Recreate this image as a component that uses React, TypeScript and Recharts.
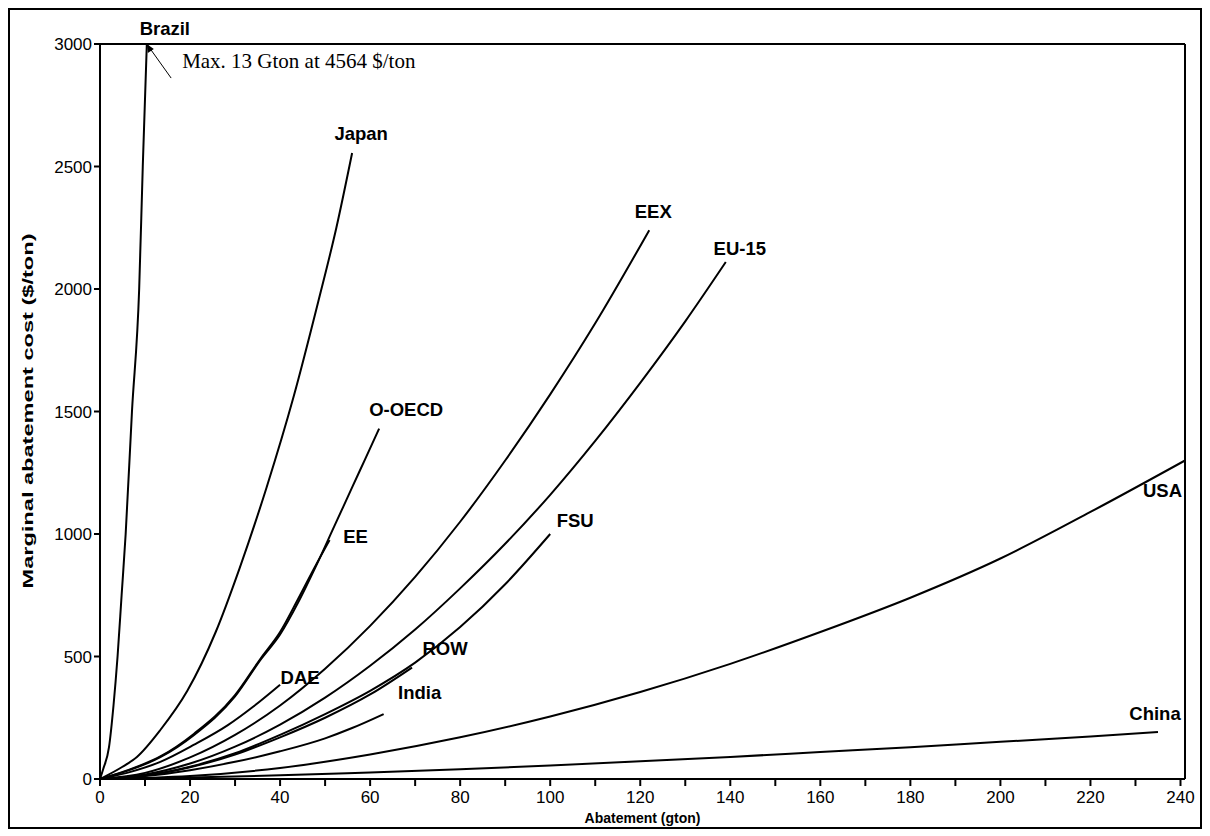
import { LineChart, Line, XAxis, YAxis, ReferenceLine, LabelList } from 'recharts'

// abatement (gton) vs marginal abatement cost ($/ton)
const brazil = [[0, 0], [0.7, 40], [2, 130], [3, 300], [3.9, 500], [4.8, 750], [5.7, 1000], [7.1, 1500], [8.7, 2000], [9.5, 2500], [10.4, 3000]]
const japan = [[0, 0], [5, 50], [8.2, 90], [13.4, 200], [19.4, 360], [25.7, 600], [31, 860], [37, 1190], [43, 1560], [48.5, 1950], [52.5, 2250], [56, 2555]]
const oOecd = [[0, 0], [6, 33], [13.4, 89], [20.9, 180], [29.9, 335], [35.8, 490], [40, 590], [44, 720], [48, 870], [52, 1030], [56, 1190], [59, 1310], [62, 1430]]
const ee = [[0, 0], [6, 35], [13.4, 92], [20.9, 185], [29.9, 340], [35.8, 495], [40, 600], [44, 735], [48, 875], [51, 975]]
const dae = [[0, 0], [6, 25], [13.4, 70], [20.9, 140], [28.4, 220], [34, 295], [40, 385]]
const eex = [[0, 0], [10, 25], [20, 88], [30, 180], [40, 300], [50, 450], [60, 625], [70, 825], [80, 1050], [90, 1300], [100, 1570], [110, 1860], [122, 2240]]
const eu15 = [[0, 0], [10, 18], [20, 63], [30, 132], [40, 222], [50, 332], [60, 462], [70, 610], [80, 778], [90, 960], [100, 1160], [110, 1380], [120, 1617], [130, 1868], [139, 2110]]
const fsu = [[0, 0], [10, 14], [20, 50], [30, 105], [40, 180], [50, 265], [60, 360], [70, 475], [80, 620], [90, 795], [100, 1000]]
const row = [[0, 0], [10, 14], [20, 48], [30, 100], [40, 170], [50, 250], [60, 345], [69.3, 455]]
const india = [[0, 0], [10, 12], [20, 36], [30, 70], [40, 113], [50, 166], [56, 208], [63, 265]]
const usa = [[0, 0], [20, 12], [40, 45], [60, 100], [80, 170], [100, 255], [120, 355], [140, 470], [160, 600], [180, 740], [200, 900], [220, 1090], [241, 1300]]
const china = [[0, 0], [20, 6], [40, 15], [60, 27], [80, 40], [100, 55], [120, 72], [140, 90], [160, 110], [180, 130], [200, 152], [220, 173], [235, 192]]

// pointer from the note to the top of the Brazil curve
const brazilNote = [[15.8, 2861], [10.4, 3000]]

const xTicks = [0, 10, 20, 30, 40, 50, 60, 70, 80, 90, 100, 110, 120, 130, 140, 150, 160, 170, 180, 190, 200, 210, 220, 230, 240]
const yTicks = [0, 500, 1000, 1500, 2000, 2500, 3000]

const toPoints = (pts: number[][]) => pts.map(([x, y]) => ({ x, y }))

// name, points, label offset from the end of the curve
const series: [string, number[][], number, number, string][] = [
    ['Brazil', brazil, 18, -16, 'middle'],
    ['Japan', japan, 9, -20, 'middle'],
    ['O-OECD', oOecd, 27, -19, 'middle'],
    ['EE', ee, 26, -4, 'middle'],
    ['DAE', dae, 20, -7, 'middle'],
    ['EEX', eex, 4, -19, 'middle'],
    ['EU-15', eu15, 14, -14, 'middle'],
    ['FSU', fsu, 25, -14, 'middle'],
    ['ROW', row, 33, -19, 'middle'],
    ['India', india, 36, -22, 'middle'],
    ['USA', usa, -3, 30, 'end'],
    ['China', china, -3, -18, 'middle'],
]

const font = '"Liberation Sans", Arial, sans-serif'

const endLabel = (text: string, n: number, dx: number, dy: number, anchor: string) => (props: any) => {
    if (props.index !== n - 1) return null
    const x = props.x ?? props.viewBox?.x
    const y = props.y ?? props.viewBox?.y
    return (
        <text x={x + dx} y={y + dy} textAnchor={anchor} dominantBaseline="central"
            style={{ fontFamily: font, fontSize: 18.5, fontWeight: 'bold', fill: '#000' }}>
            {text}
        </text>
    )
}

const noteLabel = (props: any) => {
    if (props.index !== 0) return null
    const x = props.x ?? props.viewBox?.x
    const y = props.y ?? props.viewBox?.y
    return (
        <text x={x + 11} y={y - 17} dominantBaseline="central"
            style={{ fontFamily: '"Liberation Serif", "Times New Roman", serif', fontSize: 21, fill: '#000' }}>
            Max. 13 Gton at 4564 $/ton
        </text>
    )
}

const arrowDot = (props: any) => {
    if (props.index !== 1) return <g key={props.index} />
    const { cx, cy } = props
    return <polygon key={props.index} points={`${cx},${cy} ${cx + 1},${cy + 9} ${cx + 7},${cy + 5}`} fill="#000" />
}

export default function App() {
    return (
        <div style={{ position: 'relative', width: 1194, height: 821, border: '2px solid #000', boxSizing: 'border-box', background: '#fff' }}>
            <LineChart width={1190} height={817} margin={{ top: 34, right: 15, left: 30, bottom: 18 }}>
                <XAxis
                    type="number"
                    dataKey="x"
                    domain={[0, 241]}
                    ticks={xTicks}
                    interval={0}
                    allowDataOverflow
                    tickFormatter={(v: number) => (v % 20 === 0 ? String(v) : '')}
                    height={30}
                    axisLine={{ stroke: '#000', strokeWidth: 2 }}
                    tickLine={{ stroke: '#000', strokeWidth: 2 }}
                    tickSize={7}
                    tick={{ fontFamily: font, fontSize: 17, fill: '#000', dy: 3 }}
                />
                <YAxis
                    type="number"
                    dataKey="y"
                    domain={[0, 3000]}
                    ticks={yTicks}
                    interval={0}
                    allowDataOverflow
                    width={60}
                    axisLine={{ stroke: '#000', strokeWidth: 2 }}
                    tickLine={{ stroke: '#000', strokeWidth: 2 }}
                    tickSize={6}
                    tick={{ fontFamily: font, fontSize: 17, fill: '#000' }}
                />
                <ReferenceLine y={3000} stroke="#000" strokeWidth={2} ifOverflow="visible" />
                <ReferenceLine x={241} stroke="#000" strokeWidth={2} ifOverflow="visible" />
                {series.map(([name, pts, dx, dy, anchor]) => (
                    <Line
                        key={name}
                        data={toPoints(pts)}
                        dataKey="y"
                        type="monotone"
                        stroke="#000"
                        strokeWidth={2}
                        dot={false}
                        isAnimationActive={false}
                    >
                        <LabelList dataKey="y" content={endLabel(name, pts.length, dx, dy, anchor)} />
                    </Line>
                ))}
                <Line
                    data={toPoints(brazilNote)}
                    dataKey="y"
                    type="linear"
                    stroke="#000"
                    strokeWidth={1}
                    dot={arrowDot}
                    isAnimationActive={false}
                >
                    <LabelList dataKey="y" content={noteLabel} />
                </Line>
            </LineChart>
            <div style={{ position: 'absolute', left: 0, right: 0, top: 800, textAlign: 'center', paddingLeft: 90, paddingRight: 15, fontFamily: font, fontSize: 14, fontWeight: 'bold' }}>
                Abatement (gton)
            </div>
            <svg width={40} height={817} style={{ position: 'absolute', left: 0, top: 0 }}>
                <text transform="translate(17, 401) rotate(-90)" textAnchor="middle" dominantBaseline="central"
                    textLength={355} lengthAdjust="spacingAndGlyphs"
                    style={{ fontFamily: font, fontSize: 15, fontWeight: 'bold', fill: '#000' }}>
                    Marginal abatement cost ($/ton)
                </text>
            </svg>
        </div>
    )
}
